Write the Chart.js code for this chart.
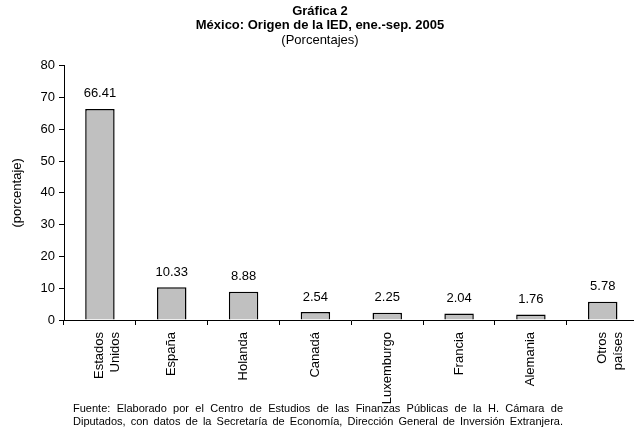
<!DOCTYPE html>
<html>
<head>
<meta charset="utf-8">
<script src="https://cdn.jsdelivr.net/npm/chart.js@4.4.0/dist/chart.umd.min.js"></script>
<style>
  html, body { margin: 0; padding: 0; background: #fff; overflow: hidden; width: 634px; height: 431px; }
  #wrap { position: relative; width: 641px; height: 431px; }
  canvas { position: absolute; left: 0; top: 0; }
  #foot {
    position: absolute; left: 73px; top: 402px; width: 490px;
    font-family: "Liberation Sans", Arial, sans-serif; font-size: 11px; line-height: 13px;
    color: #000; text-align: justify; text-align-last: justify;
  }
</style>
</head>
<body>
<div id="wrap">
  <canvas id="c" width="641" height="431"></canvas>
  <div id="foot">Fuente: Elaborado por el Centro de Estudios de las Finanzas Públicas de la H. Cámara de Diputados, con datos de la Secretaría de Economía, Dirección General de Inversión Extranjera.</div>
</div>
<script>
const categories = [["Estados", "Unidos"], "España", "Holanda", "Canadá", "Luxemburgo", "Francia", "Alemania", ["Otros", "países"]];
const values = [66.41, 10.33, 8.88, 2.54, 2.25, 2.04, 1.76, 5.78];
const valueLabels = ["66.41", "10.33", "8.88", "2.54", "2.25", "2.04", "1.76", "5.78"];
const titleLines = ["Gráfica 2", "México: Origen de la IED, ene.-sep. 2005"];
const subtitleText = "(Porcentajes)";
const yAxisTitle = "(porcentaje)";

const FONT = '"Liberation Sans", Arial, sans-serif';
Chart.defaults.font.family = FONT;
Chart.defaults.color = '#000';

const valueLabelPlugin = {
  id: 'valueLabels',
  afterDatasetsDraw(chart) {
    const ctx = chart.ctx;
    const meta = chart.getDatasetMeta(0);
    ctx.save();
    ctx.font = '13px ' + FONT;
    ctx.fillStyle = '#000';
    ctx.textAlign = 'center';
    ctx.textBaseline = 'middle';
    meta.data.forEach((bar, i) => {
      ctx.fillText(valueLabels[i], bar.x, bar.y - 15);
    });
    ctx.restore();
  }
};

new Chart(document.getElementById('c'), {
  type: 'bar',
  data: {
    labels: categories,
    datasets: [{
      data: values,
      backgroundColor: '#c0c0c0',
      borderColor: '#000',
      borderWidth: 1.5,
      barPercentage: 0.41,
      categoryPercentage: 1.0
    }]
  },
  options: {
    responsive: false,
    animation: false,
    layout: { padding: { left: 0, right: 1, top: 0, bottom: 0 } },
    plugins: {
      legend: { display: false },
      tooltip: { enabled: false },
      title: {
        display: true,
        text: titleLines,
        font: { size: 13, weight: 'bold', lineHeight: 1.12 },
        padding: { top: 4, bottom: 0 }
      },
      subtitle: {
        display: true,
        text: subtitleText,
        font: { size: 13, weight: 'normal', lineHeight: 1.12 },
        padding: { top: 0, bottom: 18 }
      }
    },
    scales: {
      x: {
        grid: { display: true, offset: true, drawOnChartArea: false, drawTicks: true, tickLength: 5, color: '#000', tickWidth: 1 },
        border: { display: true, color: '#000', width: 1 },
        ticks: { autoSkip: false, maxRotation: 90, minRotation: 90, padding: 7, font: { size: 13 }, color: '#000' },
        afterFit(s) { s.height = 431 - 320; }
      },
      y: {
        min: 0, max: 80,
        ticks: { stepSize: 10, padding: 4, font: { size: 13 }, color: '#000' },
        grid: { display: true, drawOnChartArea: false, drawTicks: true, tickLength: 5, color: '#000' },
        border: { display: true, color: '#000', width: 1 },
        title: { display: true, text: yAxisTitle, font: { size: 13 }, padding: { top: 10, bottom: 0 } },
        afterFit(s) { s.width = 64; }
      }
    }
  },
  plugins: [valueLabelPlugin]
});
</script>
</body>
</html>
